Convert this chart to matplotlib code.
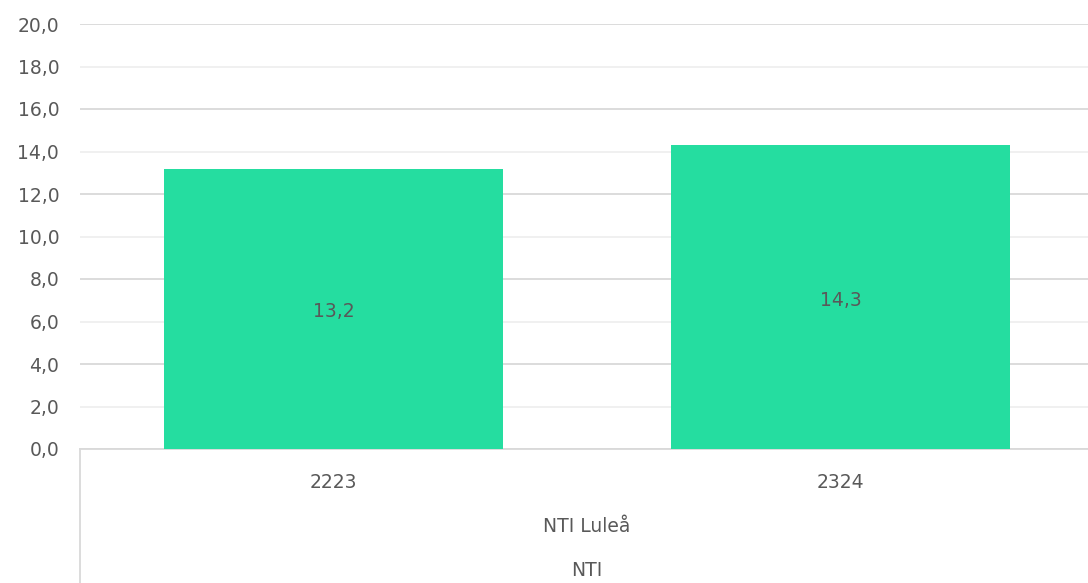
import matplotlib
matplotlib.use("Agg")
import matplotlib.pyplot as plt
from matplotlib.lines import Line2D

categories = ["2223", "2324"]
values = [13.2, 14.3]
group_label = "NTI Luleå"
top_label = "NTI"
yticks = [0, 2, 4, 6, 8, 10, 12, 14, 16, 18, 20]

bar_color = "#25DDA0"
text_color = "#595959"
font = ["DejaVu Sans"]
fs = 13.5

def fmt(v):
    return f"{v:.1f}".replace(".", ",")

fig = plt.figure(figsize=(10.88, 5.83), dpi=100)
ax = fig.add_axes([80 / 1088, 1 - 449 / 583, 1014 / 1088, 425 / 583])

x = list(range(len(categories)))
bars = ax.bar(x, values, width=0.667, color=bar_color, zorder=3)
for xi, v in zip(x, values):
    ax.annotate(fmt(v), xy=(xi, v / 2), xytext=(0, -3), textcoords="offset pixels",
                ha="center", va="center", color=text_color,
                fontsize=fs, family=font, zorder=4)

ax.set_xlim(-0.5, len(categories) - 0.5)
ax.set_ylim(0, 20)
ax.set_yticks(yticks)
ax.set_yticklabels([fmt(t) for t in yticks], fontsize=fs, color=text_color, family=font)
for t in yticks:
    c = "#D9D9D9" if t % 4 == 0 else "#EFEFEF"
    ax.axhline(t, color=c, lw=1.3, zorder=1)
ax.tick_params(axis="y", length=0, pad=15)
ax.set_xticks([])
for s in ["top", "right", "left"]:
    ax.spines[s].set_visible(False)
ax.spines["bottom"].set_color("#D9D9D9")
ax.spines["bottom"].set_linewidth(1.3)

# category labels
for xi, c in zip(x, categories):
    ax.annotate(c, xy=(xi, 0), xycoords="data", xytext=(0, -483 + 449), textcoords="offset pixels",
                ha="center", va="center", fontsize=fs, color=text_color, family=font)
mid = (len(categories) - 1) / 2
ax.annotate(group_label, xy=(mid, 0), xytext=(0, -527 + 449), textcoords="offset pixels",
            ha="center", va="center", fontsize=fs, color=text_color, family=font)
ax.annotate(top_label, xy=(mid, 0), xytext=(0, -571 + 449), textcoords="offset pixels",
            ha="center", va="center", fontsize=fs, color=text_color, family=font)

fig.add_artist(Line2D([80 / 1088, 80 / 1088], [0, 1 - 449 / 583], transform=fig.transFigure,
                      color="#D9D9D9", lw=1.3))

fig.savefig("out.png", dpi=100)
